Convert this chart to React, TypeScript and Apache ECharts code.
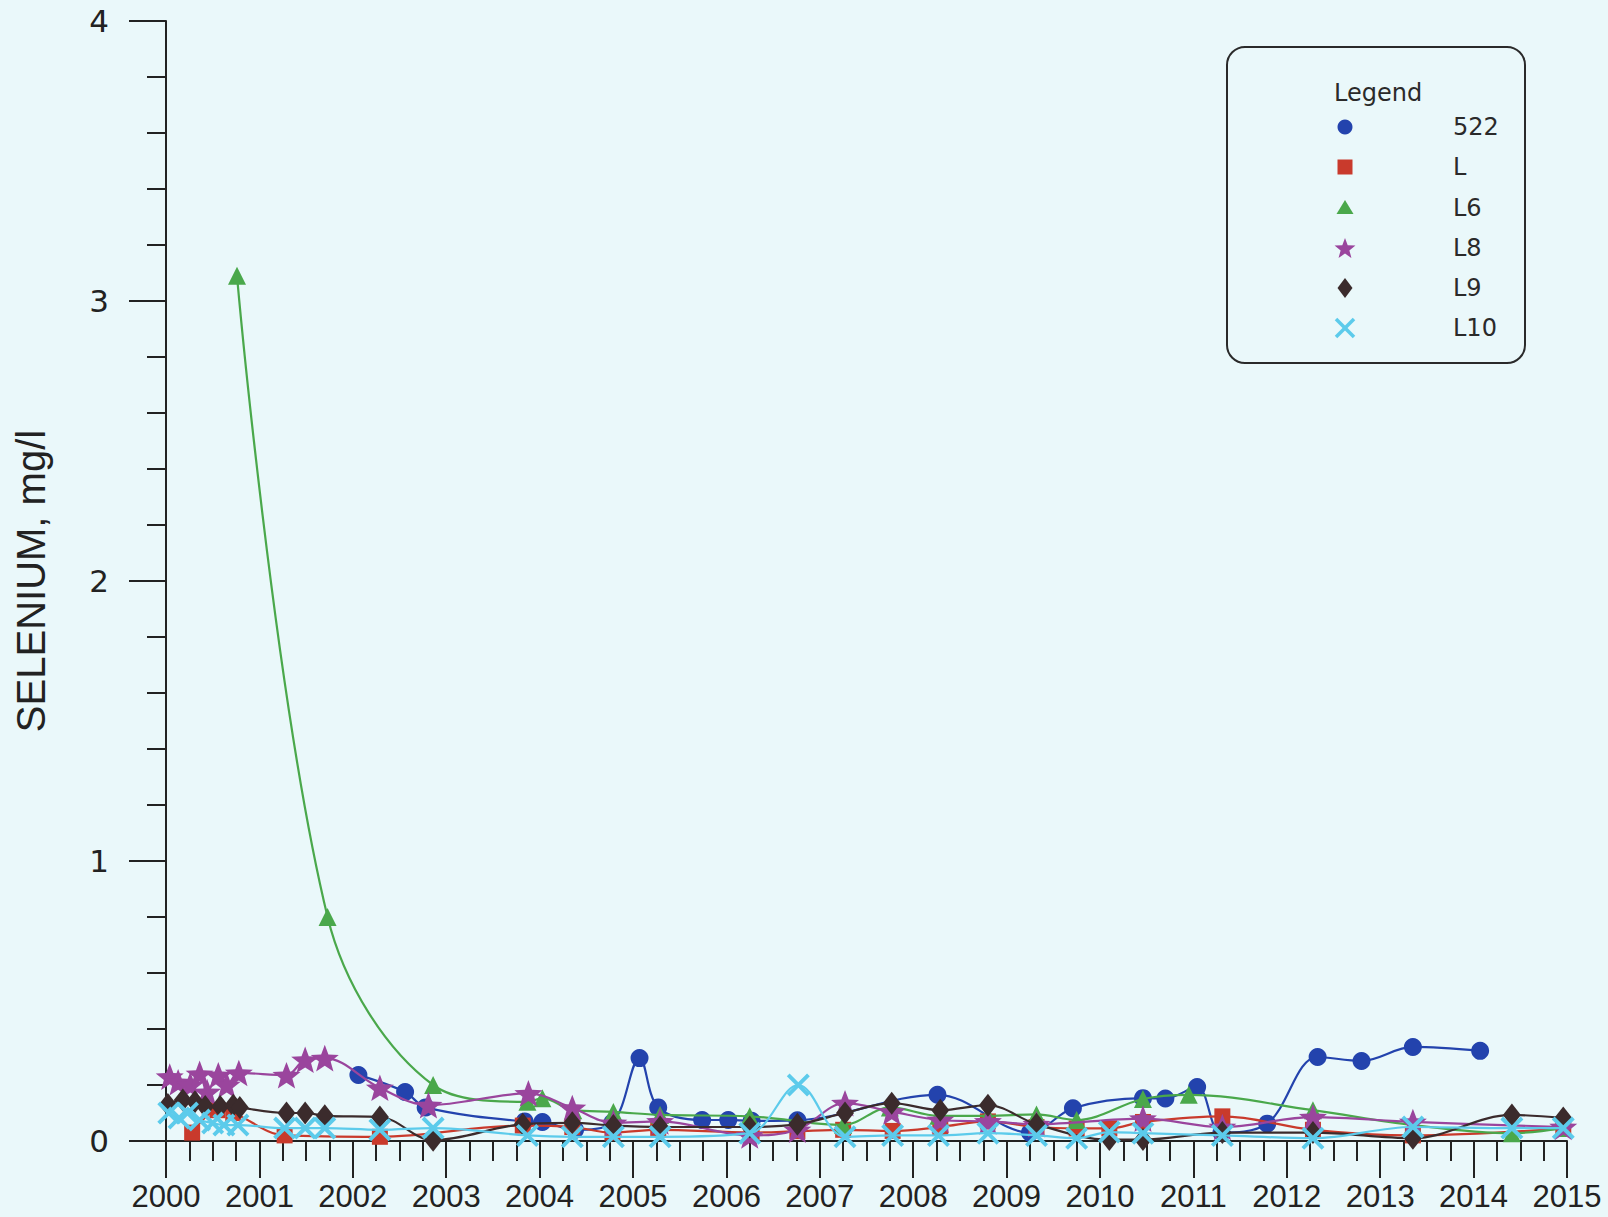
import React, { useEffect, useRef } from "react";
import * as echarts from "echarts";

// ---- data (year, mg/l) ----
const names = ["522", "L", "L6", "L8", "L9", "L10"];
const colors = ["#2343ad", "#c93a2c", "#4aa84b", "#9a459d", "#3b2b2c", "#5ccbeb"];

const s522: number[][] = [
  [2002.06, 0.236], [2002.56, 0.175], [2002.78, 0.12], [2003.84, 0.07], [2004.03, 0.068],
  [2004.38, 0.04], [2004.78, 0.066], [2005.07, 0.296], [2005.27, 0.12], [2005.74, 0.075],
  [2006.02, 0.075], [2006.27, 0.072], [2006.76, 0.074], [2008.26, 0.165], [2009.25, 0.03],
  [2009.71, 0.117], [2010.46, 0.153], [2010.7, 0.152], [2011.04, 0.193], [2011.3, 0.03],
  [2011.79, 0.062], [2012.33, 0.3], [2012.8, 0.286], [2013.35, 0.336], [2014.07, 0.322],
];
const sL: number[][] = [
  [2000.28, 0.03], [2000.55, 0.11], [2000.72, 0.1], [2001.27, 0.02], [2002.29, 0.015],
  [2003.82, 0.055], [2004.35, 0.05], [2004.78, 0.03], [2005.27, 0.04], [2006.27, 0.03],
  [2006.76, 0.035], [2007.25, 0.04], [2007.78, 0.036], [2008.29, 0.05], [2008.8, 0.07],
  [2009.32, 0.05], [2009.75, 0.045], [2010.1, 0.045], [2010.46, 0.068], [2011.31, 0.088],
  [2012.28, 0.04], [2013.35, 0.02], [2014.96, 0.045],
];
const sL6: number[][] = [
  [2000.76, 3.09], [2001.73, 0.8], [2002.86, 0.2], [2003.87, 0.14], [2004.03, 0.153],
  [2004.36, 0.11], [2004.79, 0.104], [2005.29, 0.093], [2006.25, 0.088], [2007.25, 0.057],
  [2007.75, 0.12], [2008.27, 0.09], [2008.8, 0.09], [2009.32, 0.095], [2009.75, 0.075],
  [2010.46, 0.15], [2010.95, 0.165], [2012.28, 0.11], [2013.35, 0.057], [2014.41, 0.028],
  [2014.96, 0.046],
];
const sL8: number[][] = [
  [2000.04, 0.23], [2000.13, 0.21], [2000.26, 0.2], [2000.36, 0.24], [2000.44, 0.175],
  [2000.56, 0.235], [2000.65, 0.2], [2000.78, 0.243], [2001.29, 0.235], [2001.49, 0.29],
  [2001.7, 0.296], [2002.29, 0.19], [2002.81, 0.128], [2003.88, 0.17], [2004.35, 0.118],
  [2004.79, 0.065], [2005.29, 0.07], [2006.25, 0.02], [2006.76, 0.04], [2007.27, 0.135],
  [2007.77, 0.105], [2008.29, 0.075], [2008.8, 0.07], [2009.32, 0.06], [2010.46, 0.08],
  [2011.31, 0.05], [2012.28, 0.085], [2013.35, 0.068], [2014.96, 0.05],
];
const sL9: number[][] = [
  [2000.02, 0.13], [2000.18, 0.146], [2000.31, 0.14], [2000.42, 0.123], [2000.58, 0.123],
  [2000.72, 0.128], [2000.79, 0.12], [2001.29, 0.1], [2001.49, 0.1], [2001.7, 0.09],
  [2002.29, 0.086], [2002.86, 0.003], [2003.82, 0.06], [2004.35, 0.065], [2004.79, 0.055],
  [2005.29, 0.05], [2006.25, 0.05], [2006.76, 0.06], [2007.27, 0.1], [2007.77, 0.135],
  [2008.29, 0.11], [2008.8, 0.128], [2009.32, 0.06], [2010.1, 0.005], [2010.46, 0.005],
  [2011.31, 0.03], [2012.28, 0.03], [2013.35, 0.01], [2014.41, 0.093], [2014.96, 0.082],
];
const sL10: number[][] = [
  [2000.03, 0.1], [2000.14, 0.082], [2000.23, 0.1], [2000.36, 0.075], [2000.5, 0.064],
  [2000.62, 0.057], [2000.77, 0.057], [2001.27, 0.046], [2001.49, 0.046], [2001.7, 0.046],
  [2002.29, 0.04], [2002.86, 0.046], [2003.87, 0.02], [2004.35, 0.015], [2004.79, 0.015],
  [2005.29, 0.015], [2006.25, 0.028], [2006.77, 0.2], [2007.27, 0.015], [2007.78, 0.02],
  [2008.27, 0.02], [2008.8, 0.028], [2009.32, 0.02], [2009.75, 0.01], [2010.1, 0.032],
  [2010.46, 0.028], [2011.31, 0.02], [2012.28, 0.01], [2013.35, 0.05], [2014.41, 0.046],
  [2014.96, 0.046],
];
const allData = [s522, sL, sL6, sL8, sL9, sL10];

const yTickLabels = ["0", "1", "2", "3", "4"];
const xMin = 2000;
const xMax = 2015;

// ---- symbol geometry ----
function starPoints(cx: number, cy: number, R: number, r: number): number[][] {
  const pts: number[][] = [];
  for (let i = 0; i < 10; i++) {
    const ang = (-90 + i * 36) * Math.PI / 180;
    const rad = i % 2 === 0 ? R : r;
    pts.push([cx + rad * Math.cos(ang), cy + rad * Math.sin(ang)]);
  }
  return pts;
}
const starPath =
  "path://" +
  starPoints(50, 50, 50, 21)
    .map((p, i) => (i === 0 ? "M" : "L") + p[0].toFixed(2) + "," + p[1].toFixed(2))
    .join(" ") +
  " Z";
const crossPath =
  "path://M0,12 L12,0 L50,38 L88,0 L100,12 L62,50 L100,88 L88,100 L50,62 L12,100 L0,88 L38,50 Z";

const symbols = ["circle", "rect", "triangle", starPath, "diamond", crossPath];
const symbolSizes: any[] = [18, 16, 18, 28, [18, 23], 23];

export default function App() {
  const ref = useRef<HTMLDivElement>(null);
  useEffect(() => {
    if (!ref.current) return;
    const chart = echarts.init(ref.current, undefined, { renderer: "svg" });

    // legend graphics
    const lgX = 1345;
    const rowY = [127, 167, 208, 248, 288, 328];
    const legendEls: any[] = [
      {
        type: "rect",
        shape: { x: 1227, y: 47, width: 298, height: 316, r: 18 },
        style: { fill: "transparent", stroke: "#2a2a2a", lineWidth: 2 },
      },
      {
        type: "text",
        x: 1334,
        y: 93,
        style: {
          text: "Legend", font: "24px 'DejaVu Sans'", fill: "#2a2a2a",
          textAlign: "left", textVerticalAlign: "middle",
        },
      },
    ];
    names.forEach((n, i) => {
      const y = rowY[i];
      const c = colors[i];
      if (i === 0) legendEls.push({ type: "circle", shape: { cx: lgX, cy: y, r: 7.5 }, style: { fill: c } });
      if (i === 1) legendEls.push({ type: "rect", shape: { x: lgX - 7.5, y: y - 7.5, width: 15, height: 15 }, style: { fill: c } });
      if (i === 2) legendEls.push({ type: "polygon", shape: { points: [[lgX, y - 8], [lgX + 8.5, y + 6], [lgX - 8.5, y + 6]] }, style: { fill: c } });
      if (i === 3) legendEls.push({ type: "polygon", shape: { points: starPoints(lgX, y + 1, 11, 4.6) }, style: { fill: c } });
      if (i === 4) legendEls.push({ type: "polygon", shape: { points: [[lgX, y - 10], [lgX + 7.5, y], [lgX, y + 10], [lgX - 7.5, y]] }, style: { fill: c } });
      if (i === 5) {
        legendEls.push({ type: "line", shape: { x1: lgX - 9, y1: y - 9, x2: lgX + 9, y2: y + 9 }, style: { stroke: c, lineWidth: 3.5 } });
        legendEls.push({ type: "line", shape: { x1: lgX - 9, y1: y + 9, x2: lgX + 9, y2: y - 9 }, style: { stroke: c, lineWidth: 3.5 } });
      }
      legendEls.push({
        type: "text",
        x: 1453,
        y: y,
        style: {
          text: n, font: "24px 'DejaVu Sans'", fill: "#2a2a2a",
          textAlign: "left", textVerticalAlign: "middle",
        },
      });
    });

    const option: any = {
      animation: false,
      backgroundColor: "#eaf8fa",
      grid: { left: 166, right: 41, top: 21, bottom: 76, containLabel: false, outerBoundsMode: "none" },
      xAxis: {
        type: "value",
        min: xMin,
        max: xMax,
        interval: 1,
        axisLine: { show: true, onZero: false, lineStyle: { color: "#222", width: 2 } },
        axisTick: { show: true, inside: false, length: 37, lineStyle: { color: "#222", width: 2 } },
        minorTick: { show: true, splitNumber: 4, length: 20, lineStyle: { color: "#222", width: 2 } },
        splitLine: { show: false },
        minorSplitLine: { show: false },
        axisLabel: {
          margin: 40,
          fontSize: 31,
          fontFamily: "'Liberation Sans', Arial, sans-serif",
          color: "#222",
          formatter: (v: number) => String(Math.round(v)),
        },
      },
      yAxis: {
        type: "value",
        min: 0,
        max: 4,
        interval: 1,
        name: "SELENIUM, mg/l",
        nameLocation: "middle",
        nameRotate: 90,
        nameGap: 115,
        nameTextStyle: {
          fontSize: 40,
          fontFamily: "'Liberation Sans', Arial, sans-serif",
          color: "#222",
        },
        axisLine: { show: true, lineStyle: { color: "#222", width: 2 } },
        axisTick: { show: true, inside: false, length: 37, lineStyle: { color: "#222", width: 2 } },
        minorTick: { show: true, splitNumber: 5, length: 19, lineStyle: { color: "#222", width: 2 } },
        splitLine: { show: false },
        minorSplitLine: { show: false },
        axisLabel: {
          margin: 57,
          fontSize: 31,
          fontFamily: "'DejaVu Sans', Verdana, sans-serif",
          color: "#222",
          formatter: (v: number) => yTickLabels[Math.round(v)] ?? String(v),
        },
      },
      graphic: legendEls,
      series: names.map((n, i) => ({
        name: n,
        type: "line",
        data: allData[i],
        smooth: 0.35,
        symbol: symbols[i],
        symbolSize: symbolSizes[i],
        symbolKeepAspect: i === 3,
        showAllSymbol: true,
        lineStyle: { color: colors[i], width: 2.2 },
        itemStyle: { color: colors[i] },
        z: 2 + i,
      })),
    };
    chart.setOption(option);
    return () => chart.dispose();
  }, []);

  return (
    <div
      ref={ref}
      style={{ position: "fixed", left: 0, top: 0, width: 1608, height: 1217 }}
    />
  );
}
